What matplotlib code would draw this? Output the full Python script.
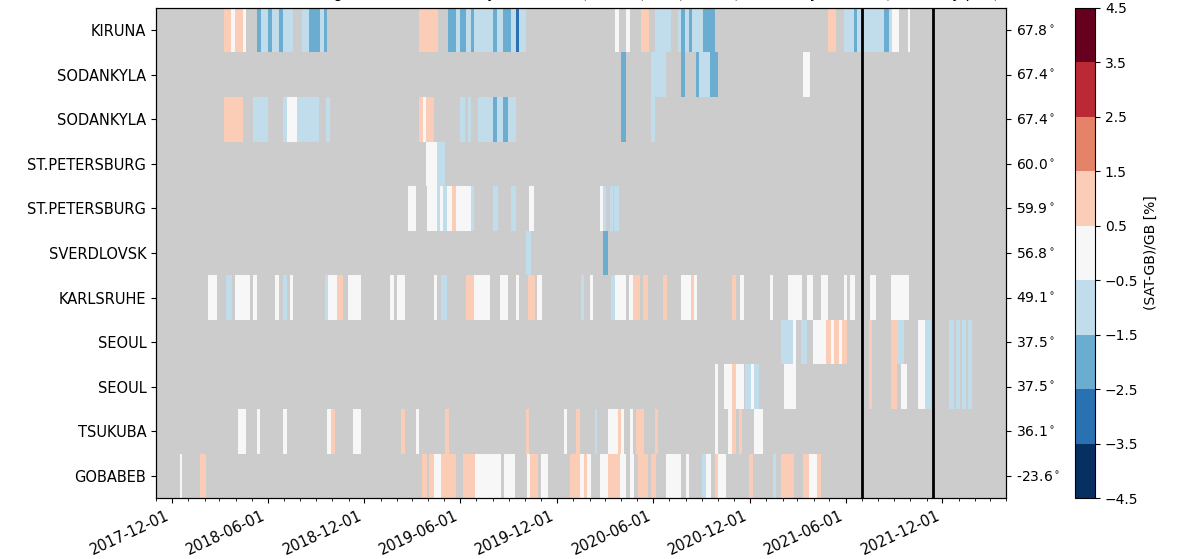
import numpy as np
import matplotlib
matplotlib.use('Agg')
import matplotlib.pyplot as plt
import matplotlib.dates as mdates
from matplotlib.colors import BoundaryNorm
from matplotlib.cm import ScalarMappable

stations = ['KIRUNA', 'SODANKYLA', 'SODANKYLA', 'ST.PETERSBURG', 'ST.PETERSBURG',
            'SVERDLOVSK', 'KARLSRUHE', 'SEOUL', 'SEOUL', 'TSUKUBA', 'GOBABEB']
latitudes = [67.8, 67.4, 67.4, 60.0, 59.9, 56.8, 49.1, 37.5, 37.5, 36.1, -23.6]

# (start, end, (SAT-GB)/GB in %)
kiruna = [
    ('2018-03-10', '2018-03-24', 1), ('2018-03-24', '2018-03-31', 0),
    ('2018-03-31', '2018-04-14', 1), ('2018-04-14', '2018-04-20', 0),
    ('2018-05-11', '2018-05-19', -2), ('2018-05-19', '2018-06-01', -1),
    ('2018-06-01', '2018-06-08', -2), ('2018-06-08', '2018-06-22', -1),
    ('2018-06-22', '2018-06-29', -2), ('2018-06-29', '2018-07-19', -1),
    ('2018-08-04', '2018-08-18', -1), ('2018-08-18', '2018-09-07', -2),
    ('2018-09-07', '2018-09-15', -1), ('2018-09-15', '2018-09-21', -2),
    ('2019-03-14', '2019-04-20', 1), ('2019-05-09', '2019-05-24', -2),
    ('2019-05-24', '2019-06-01', -1), ('2019-06-01', '2019-06-12', -2),
    ('2019-06-12', '2019-06-21', -1), ('2019-06-21', '2019-06-27', -2),
    ('2019-06-27', '2019-08-02', -1), ('2019-08-02', '2019-08-10', -2),
    ('2019-08-10', '2019-08-21', -1), ('2019-08-21', '2019-09-06', -2),
    ('2019-09-06', '2019-09-14', -1), ('2019-09-14', '2019-09-20', -3),
    ('2019-09-20', '2019-10-04', -1), ('2020-03-21', '2020-03-27', 0),
    ('2020-04-10', '2020-04-17', 0), ('2020-05-08', '2020-05-23', 1),
    ('2020-06-05', '2020-07-05', -1), ('2020-07-17', '2020-07-24', -1),
    ('2020-07-24', '2020-07-31', -2), ('2020-07-31', '2020-08-08', -1),
    ('2020-08-08', '2020-08-13', -2), ('2020-08-13', '2020-09-04', -1),
    ('2020-09-04', '2020-09-25', -2), ('2021-04-29', '2021-05-14', 1),
    ('2021-05-29', '2021-06-17', -1), ('2021-06-17', '2021-06-23', -2),
    ('2021-06-23', '2021-07-01', -1), ('2021-07-06', '2021-08-13', -1),
    ('2021-08-13', '2021-08-21', -2), ('2021-08-21', '2021-08-27', -1),
    ('2021-08-27', '2021-09-10', 0), ('2021-09-26', '2021-09-30', 0),
]
sodankyla_a = [
    ('2020-04-01', '2020-04-10', -2), ('2020-05-28', '2020-06-25', -1),
    ('2020-07-24', '2020-07-31', -2), ('2020-08-21', '2020-08-27', -2),
    ('2020-08-27', '2020-09-16', -1), ('2020-09-16', '2020-10-01', -2),
    ('2021-03-11', '2021-03-25', 0),
]
sodankyla_b = [
    ('2018-03-10', '2018-04-14', 1), ('2018-05-03', '2018-06-01', -1),
    ('2018-06-29', '2018-07-08', -1), ('2018-07-08', '2018-07-27', 0),
    ('2018-07-27', '2018-09-06', -1), ('2018-09-20', '2018-09-27', -1),
    ('2019-03-14', '2019-03-22', 1), ('2019-03-22', '2019-03-28', 0),
    ('2019-03-28', '2019-04-12', 1), ('2019-06-01', '2019-06-09', -1),
    ('2019-06-15', '2019-06-21', -1), ('2019-07-04', '2019-08-01', -1),
    ('2019-08-01', '2019-08-10', -2), ('2019-08-10', '2019-08-21', -1),
    ('2019-08-21', '2019-08-30', -2), ('2019-08-30', '2019-09-14', -1),
    ('2020-04-01', '2020-04-10', -2), ('2020-05-28', '2020-06-05', -1),
]
st_petersburg_a = [
    ('2019-03-28', '2019-04-18', 0), ('2019-04-18', '2019-05-02', -1),
]
st_petersburg_b = [
    ('2019-02-22', '2019-03-08', 0), ('2019-03-29', '2019-04-18', 0),
    ('2019-04-18', '2019-04-24', -1), ('2019-04-24', '2019-04-29', 0),
    ('2019-04-29', '2019-05-06', -1), ('2019-05-06', '2019-05-17', 0),
    ('2019-05-17', '2019-05-23', 1), ('2019-05-23', '2019-06-21', 0),
    ('2019-06-21', '2019-06-27', -1), ('2019-08-02', '2019-08-11', -1),
    ('2019-09-05', '2019-09-14', -1), ('2019-10-10', '2019-10-18', 0),
    ('2020-02-20', '2020-02-26', 0), ('2020-02-26', '2020-03-04', -1),
    ('2020-03-10', '2020-03-16', -1), ('2020-03-19', '2020-03-27', -1),
]
sverdlovsk = [
    ('2019-10-04', '2019-10-13', -1), ('2020-02-26', '2020-03-07', -2),
]
karlsruhe = [
    ('2018-02-08', '2018-02-24', 0), ('2018-03-13', '2018-03-25', -1),
    ('2018-03-31', '2018-04-28', 0), ('2018-05-04', '2018-05-11', 0),
    ('2018-06-14', '2018-06-22', 0), ('2018-06-29', '2018-07-08', -1),
    ('2018-07-13', '2018-07-19', 0), ('2018-09-17', '2018-09-23', -1),
    ('2018-09-23', '2018-10-11', 0), ('2018-10-11', '2018-10-22', 1),
    ('2018-10-31', '2018-11-24', 0), ('2019-01-18', '2019-01-26', 0),
    ('2019-02-01', '2019-02-17', 0), ('2019-04-12', '2019-04-18', 0),
    ('2019-04-26', '2019-05-07', -1), ('2019-06-12', '2019-06-27', 1),
    ('2019-06-27', '2019-07-27', 0), ('2019-08-16', '2019-08-30', 0),
    ('2019-09-14', '2019-09-20', 0), ('2019-10-08', '2019-10-20', 1),
    ('2019-10-25', '2019-11-03', 0), ('2020-01-16', '2020-01-22', -1),
    ('2020-02-01', '2020-02-07', 0), ('2020-03-13', '2020-03-21', -1),
    ('2020-03-21', '2020-04-10', 0), ('2020-04-15', '2020-04-24', 0),
    ('2020-04-24', '2020-05-07', 1), ('2020-05-12', '2020-05-21', 1),
    ('2020-06-19', '2020-06-26', 1), ('2020-07-24', '2020-08-12', 0),
    ('2020-08-12', '2020-08-18', 1), ('2020-08-18', '2020-08-22', 0),
    ('2020-10-29', '2020-11-05', 1), ('2020-11-12', '2020-11-19', 0),
    ('2021-01-08', '2021-01-14', 0), ('2021-02-12', '2021-03-10', 0),
    ('2021-03-19', '2021-03-30', 0), ('2021-04-15', '2021-04-29', 0),
    ('2021-05-29', '2021-06-04', 0), ('2021-06-09', '2021-06-18', 0),
    ('2021-07-16', '2021-07-28', 0), ('2021-08-25', '2021-09-29', 0),
]
seoul_a = [
    ('2021-01-29', '2021-02-20', -1), ('2021-02-20', '2021-02-26', 0),
    ('2021-03-08', '2021-03-19', -1), ('2021-03-30', '2021-04-24', 0),
    ('2021-04-24', '2021-05-04', 1), ('2021-05-04', '2021-05-10', 0),
    ('2021-05-10', '2021-05-19', 1), ('2021-05-19', '2021-05-25', 0),
    ('2021-05-25', '2021-06-04', 1), ('2021-07-15', '2021-07-21', 1),
    ('2021-08-25', '2021-09-06', 1), ('2021-09-06', '2021-09-19', -1),
    ('2021-10-15', '2021-10-30', 0), ('2021-10-30', '2021-11-09', -1),
    ('2021-12-14', '2021-12-23', -1), ('2021-12-27', '2022-01-04', -1),
    ('2022-01-07', '2022-01-15', -1), ('2022-01-18', '2022-01-26', -1),
]
seoul_b = [
    ('2020-09-26', '2020-10-02', 0), ('2020-10-13', '2020-10-28', 0),
    ('2020-10-28', '2020-11-05', 1), ('2020-11-05', '2020-11-20', 0),
    ('2020-11-22', '2020-12-03', -1), ('2020-12-03', '2020-12-09', 0),
    ('2020-12-09', '2020-12-18', -1), ('2021-02-04', '2021-02-27', 0),
    ('2021-07-15', '2021-07-21', 1), ('2021-08-25', '2021-09-06', 1),
    ('2021-09-13', '2021-09-25', 0), ('2021-10-15', '2021-10-30', 0),
    ('2021-10-30', '2021-11-09', -1), ('2021-12-14', '2021-12-23', -1),
    ('2021-12-27', '2022-01-04', -1), ('2022-01-07', '2022-01-15', -1),
    ('2022-01-18', '2022-01-26', -1),
]
tsukuba = [
    ('2018-04-05', '2018-04-20', 0), ('2018-05-11', '2018-05-18', 0),
    ('2018-06-29', '2018-07-08', 0), ('2018-09-21', '2018-09-28', 0),
    ('2018-09-28', '2018-10-06', 1), ('2018-11-09', '2018-11-24', 0),
    ('2019-02-08', '2019-02-16', 1), ('2019-03-08', '2019-03-14', 0),
    ('2019-05-02', '2019-05-10', 1), ('2019-10-04', '2019-10-10', 1),
    ('2019-12-14', '2019-12-20', 0), ('2020-01-07', '2020-01-13', 1),
    ('2020-02-12', '2020-02-16', -1), ('2020-03-07', '2020-03-26', 0),
    ('2020-03-26', '2020-04-01', 1), ('2020-04-01', '2020-04-07', 0),
    ('2020-04-17', '2020-04-23', 0), ('2020-04-29', '2020-05-15', 1),
    ('2020-06-05', '2020-06-09', 1), ('2020-09-25', '2020-10-01', 0),
    ('2020-10-20', '2020-10-28', 0), ('2020-10-28', '2020-11-05', 1),
    ('2020-11-11', '2020-11-17', 1), ('2020-12-09', '2020-12-25', 0),
]
gobabeb = [
    ('2017-12-16', '2017-12-21', 0), ('2018-01-23', '2018-02-03', 1),
    ('2019-03-21', '2019-03-30', 1), ('2019-04-03', '2019-04-12', 1),
    ('2019-04-13', '2019-04-26', 0), ('2019-04-26', '2019-05-24', 1),
    ('2019-06-06', '2019-06-28', 1), ('2019-06-28', '2019-08-17', 0),
    ('2019-08-22', '2019-09-13', 0), ('2019-10-05', '2019-10-12', 0),
    ('2019-10-12', '2019-10-26', 1), ('2019-11-01', '2019-11-14', 0),
    ('2019-12-26', '2020-01-13', 1), ('2020-01-13', '2020-01-22', 0),
    ('2020-01-22', '2020-01-27', 1), ('2020-01-27', '2020-02-04', 0),
    ('2020-02-20', '2020-03-07', 0), ('2020-03-07', '2020-03-29', 1),
    ('2020-03-29', '2020-04-10', 0), ('2020-04-17', '2020-04-26', 0),
    ('2020-05-02', '2020-05-21', 1), ('2020-05-27', '2020-06-06', 1),
    ('2020-06-25', '2020-07-24', 0), ('2020-08-01', '2020-08-07', 0),
    ('2020-09-02', '2020-09-09', -1), ('2020-09-09', '2020-09-18', 0),
    ('2020-09-25', '2020-10-01', 1), ('2020-10-01', '2020-10-17', 0),
    ('2020-11-30', '2020-12-06', 1), ('2021-01-13', '2021-01-19', -1),
    ('2021-01-29', '2021-02-23', 1), ('2021-03-11', '2021-03-23', 1),
    ('2021-03-23', '2021-04-08', 0), ('2021-04-08', '2021-04-14', 1),
]

rows = [kiruna, sodankyla_a, sodankyla_b, st_petersburg_a, st_petersburg_b,
        sverdlovsk, karlsruhe, seoul_a, seoul_b, tsukuba, gobabeb]
event_dates = ['2021-07-01', '2021-11-14']
date_range = ('2017-11-01', '2022-04-01')
title = ('TROPOMI total ozone vs. ground-based, weekly mean bias (SAT-GB)/GB (Brewer), '
         'sorted by latitude (Summary plot)')

cmap = plt.get_cmap('RdBu_r', 9)
bounds = np.arange(-4.5, 5.0, 1.0)
norm = BoundaryNorm(bounds, cmap.N)

fig = plt.figure(figsize=(11.84, 5.59), dpi=100)
ax = fig.add_axes([0.1318, 0.109, 0.718, 0.877])
ax.set_facecolor('#cccccc')

for i, segs in enumerate(rows):
    starts = mdates.datestr2num([s[0] for s in segs])
    ends = mdates.datestr2num([s[1] for s in segs])
    vals = np.array([s[2] for s in segs], dtype=float)
    ax.barh(np.full(len(segs), i), ends - starts, left=starts, height=1.0,
            color=cmap(norm(vals)), linewidth=0, antialiased=False)

for d in event_dates:
    ax.axvline(mdates.datestr2num(d), color='black', linewidth=2)

ax.set_xlim(mdates.datestr2num(date_range[0]), mdates.datestr2num(date_range[1]))
ax.set_ylim(len(stations) - 0.5, -0.5)
ax.set_yticks(range(len(stations)))
ax.set_yticklabels(stations, fontsize=10.5)
ax.xaxis.set_major_locator(mdates.MonthLocator(bymonth=[6, 12]))
ax.xaxis.set_major_formatter(mdates.DateFormatter('%Y-%m-%d'))
ax.xaxis.set_minor_locator(mdates.MonthLocator())
plt.setp(ax.get_xticklabels(), rotation=25, ha='right', fontsize=10.5)

ax2 = ax.twinx()
ax2.set_ylim(ax.get_ylim())
ax2.set_yticks(range(len(stations)))
ax2.set_yticklabels([f'{lat:.1f}$^\\circ$' for lat in latitudes], fontsize=10)

cax = fig.add_axes([0.908, 0.109, 0.017, 0.877])
sm = ScalarMappable(norm=norm, cmap=cmap)
cb = fig.colorbar(sm, cax=cax, ticks=bounds)
cb.ax.tick_params(labelsize=10)
cb.set_label('(SAT-GB)/GB [%]', fontsize=10)

fig.text(0.485, 1 + 2.0 / 559, title, ha='center', va='baseline', fontsize=10.5)

fig.savefig('out.png', dpi=100)
